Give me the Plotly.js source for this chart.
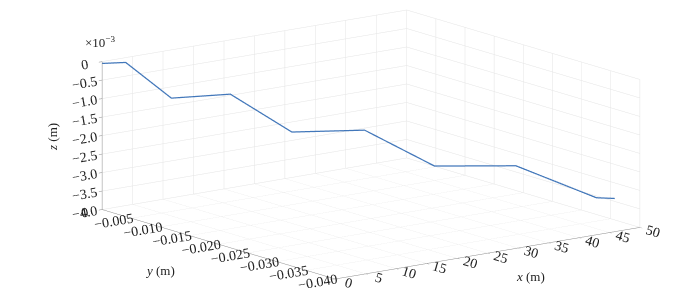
<!DOCTYPE html>
<html>
<head>
<meta charset="utf-8">
<script src="https://cdn.plot.ly/plotly-3.0.1.min.js"></script>
<style>html,body{margin:0;padding:0;background:#fff;}#chart{width:699px;height:301px;}</style>
</head>
<body>
<div id="chart"></div>
<script>
// Data (x, y, z in m)
const xVals = [0, 2.3, 6.75, 12.5, 18.5, 25.6, 32.4, 40.35, 48.2, 50];
const yVals = [0, -0.00164, -0.00482, -0.00893, -0.01321, -0.01828, -0.02316, -0.02881, -0.03442, -0.0357];
const zVals = [-0.00005, -0.00001, -0.00095, -0.00081, -0.00180, -0.00171, -0.00264, -0.00259, -0.00341, -0.00342];

const xTicks = [0, 5, 10, 15, 20, 25, 30, 35, 40, 45, 50];
const yTickVals = [-0.04, -0.035, -0.03, -0.025, -0.02, -0.015, -0.01, -0.005, 0];
const yTickText = ['\u22120.040', '\u22120.035', '\u22120.030', '\u22120.025', '\u22120.020', '\u22120.015', '\u22120.010', '\u22120.005', '0'];
const zTickVals = [-0.004, -0.0035, -0.003, -0.0025, -0.002, -0.0015, -0.001, -0.0005, 0];
const zTickText = ['\u22124.0', '\u22123.5', '\u22123.0', '\u22122.5', '\u22122.0', '\u22121.5', '\u22121.0', '\u22120.5', '0'];

const font = {family: 'Liberation Serif, Times New Roman, serif', size: 13, color: '#222'};
const axisCommon = {
  showbackground: false,
  showgrid: true,
  gridcolor: '#e4e4e4',
  gridwidth: 1,
  showline: true,
  linecolor: '#8c8c8c',
  linewidth: 1,
  zeroline: false,
  ticks: 'outside',
  ticklen: 4,
  tickcolor: '#8c8c8c',
  tickfont: font,
  showspikes: false
};

const trace = {
  type: 'scatter3d',
  mode: 'lines',
  x: xVals, y: yVals, z: zVals,
  line: {color: '#4277ba', width: 2.5},
  hoverinfo: 'skip'
};

const r = 4;
const s = 2.64;
const layout = {
  width: 699, height: 301,
  margin: {l: 0, r: 0, t: 0, b: 0},
  paper_bgcolor: '#fff',
  showlegend: false,
  scene: {
    domain: {x: [0.0616, 1.0], y: [0.04, 1.0]},
    aspectmode: 'manual',
    aspectratio: {x: 1 * s, y: 1.015 * s, z: 0.398 * s},
    camera: {
      projection: {type: 'orthographic'},
      up: {x: 0, y: 0, z: 1},
      center: {x: 0, y: 0, z: 0},
      eye: {x: -0.5867 * r, y: -0.7780 * r, z: 0.2246 * r}
    },
    xaxis: Object.assign({}, axisCommon, {range: [0, 50], tickvals: xTicks, ticktext: xTicks.map(String), title: {text: ''}}),
    yaxis: Object.assign({}, axisCommon, {range: [-0.04, 0], tickvals: yTickVals, ticktext: yTickText, title: {text: ''}}),
    zaxis: Object.assign({}, axisCommon, {range: [-0.004, 0], tickvals: zTickVals, ticktext: zTickText, title: {text: ''}})
  },
  annotations: [
    {xref: 'paper', yref: 'paper', x: 100 / 699, y: 1 - 42 / 301, text: '\u00d710<sup>\u22123</sup>', showarrow: false, font: font, xanchor: 'center', yanchor: 'middle'},
    {xref: 'paper', yref: 'paper', x: 52 / 699, y: 1 - 137 / 301, text: '<i>z</i> (m)', textangle: -90, showarrow: false, font: font, xanchor: 'center', yanchor: 'middle'},
    {xref: 'paper', yref: 'paper', x: 160 / 699, y: 1 - 270 / 301, text: '<i>y</i> (m)', showarrow: false, font: font, xanchor: 'center', yanchor: 'middle'},
    {xref: 'paper', yref: 'paper', x: 530 / 699, y: 1 - 276 / 301, text: '<i>x</i> (m)', showarrow: false, font: font, xanchor: 'center', yanchor: 'middle'}
  ]
};

Plotly.newPlot('chart', [trace], layout, {displayModeBar: false});
</script>
</body>
</html>
